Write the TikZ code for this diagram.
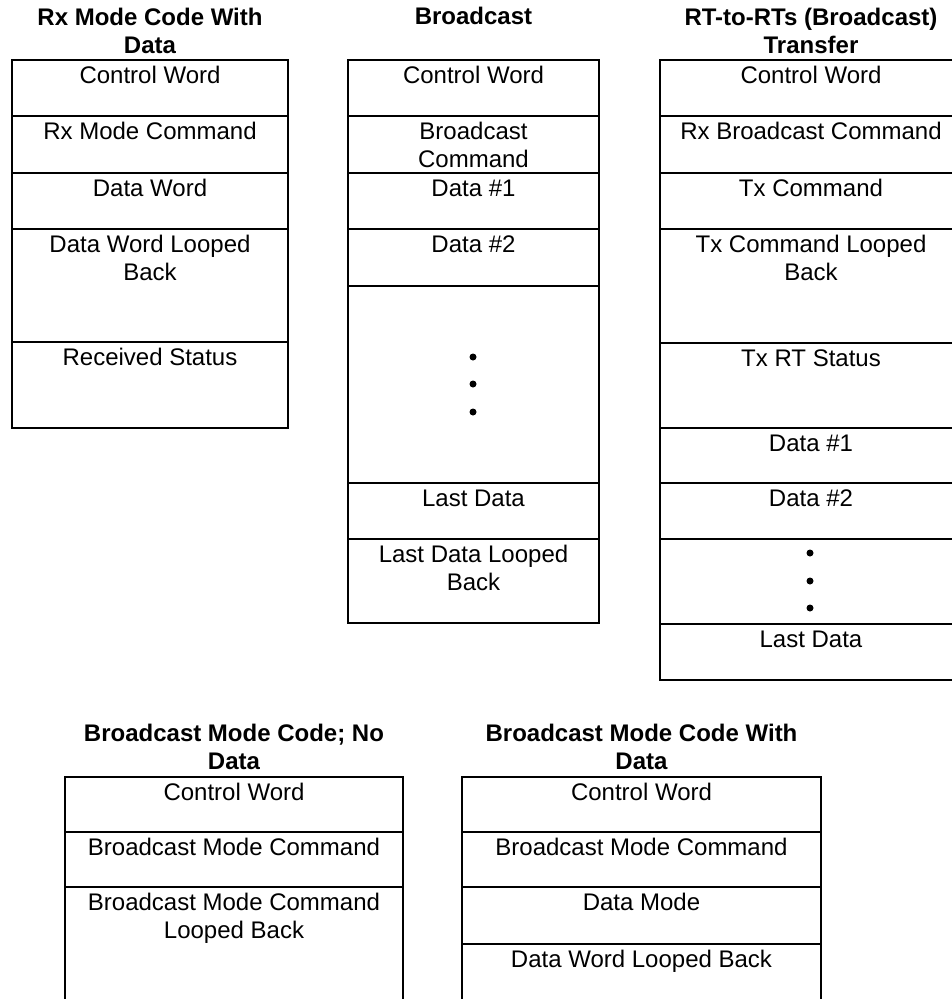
\documentclass[tikz,border=0pt]{standalone}
\usepackage{fontspec}
\setmainfont{Liberation Sans}
\usetikzlibrary{positioning}

\begin{document}
\begin{tikzpicture}[
    x=1pt, y=-1pt,
    cell/.style={draw, line width=2pt, minimum width=#1, inner xsep=0pt, inner ysep=0pt, outer sep=0pt, text height=23pt, align=center, font=\fontsize{24}{28}\selectfont},
    twoline/.style={text height=51pt},
    head/.style={inner sep=0pt, outer sep=0pt, align=center, font=\fontsize{24}{28}\selectfont\bfseries},
    dot/.style={circle, fill, inner sep=0pt, minimum size=7pt}
]
    \path[use as bounding box] (0,0) rectangle (952,999);
    \clip (0,0) rectangle (952,999);

    % Rx mode code with data
    \node[cell=276, anchor=north, text depth=33pt] (rx1) at (150,60) {Control Word};
    \node[cell=276, text depth=34pt, below=0pt of rx1] (rx2) {Rx Mode Command};
    \node[cell=276, text depth=33pt, below=0pt of rx2] (rx3) {Data Word};
    \node[cell=276, twoline, text depth=62pt, below=0pt of rx3] (rx4) {Data Word Looped\\Back};
    \node[cell=276, text depth=63pt, below=0pt of rx4] (rx5) {Received Status};
    \node[head, above=6pt of rx1] (rxhead) {Rx Mode Code With\\Data};

    % Broadcast
    \node[cell=251, anchor=north, text depth=33pt] (bc1) at (473.5,60) {Control Word};
    \node[cell=251, twoline, text depth=6pt, below=0pt of bc1] (bc2) {Broadcast\\Command};
    \node[cell=251, text depth=33pt, below=0pt of bc2] (bc3) {Data \#1};
    \node[cell=251, text depth=34pt, below=0pt of bc3] (bc4) {Data \#2};
    \node[cell=251, text depth=174pt, below=0pt of bc4] (bc5) {};
    \node[cell=251, text depth=33pt, below=0pt of bc5] (bc6) {Last Data};
    \node[cell=251, twoline, text depth=33pt, below=0pt of bc6] (bc7) {Last Data Looped\\Back};
    \node[head, above=35pt of bc1] (bchead) {Broadcast};
    \node[dot] (bcdot1) at (473,357) {};
    \node[dot] (bcdot2) at (473,384) {};
    \node[dot] (bcdot3) at (473,412) {};

    % RT-to-RTs transfer
    \node[cell=302, anchor=north, text depth=33pt] (rt1) at (811,60) {Control Word};
    \node[cell=302, text depth=34pt, below=0pt of rt1] (rt2) {Rx Broadcast Command};
    \node[cell=302, text depth=33pt, below=0pt of rt2] (rt3) {Tx Command};
    \node[cell=302, twoline, text depth=63pt, below=0pt of rt3] (rt4) {Tx Command Looped\\Back};
    \node[cell=302, text depth=62pt, below=0pt of rt4] (rt5) {Tx RT Status};
    \node[cell=302, text depth=32pt, below=0pt of rt5] (rt6) {Data \#1};
    \node[cell=302, text depth=33pt, below=0pt of rt6] (rt7) {Data \#2};
    \node[cell=302, text depth=62pt, below=0pt of rt7] (rt8) {};
    \node[cell=302, text depth=33pt, below=0pt of rt8] (rt9) {Last Data};
    \node[head, above=6pt of rt1] (rthead) {RT-to-RTs (Broadcast)\\Transfer};
    \node[dot] (rtdot1) at (810,553) {};
    \node[dot] (rtdot2) at (810,581) {};
    \node[dot] (rtdot3) at (810,608) {};

    % Broadcast mode code, no data
    \node[cell=338, anchor=north, text depth=32pt] (bm1) at (234,777) {Control Word};
    \node[cell=338, text depth=32pt, below=0pt of bm1] (bm2) {Broadcast Mode Command};
    \node[cell=338, twoline, text depth=72pt, below=0pt of bm2] (bm3) {Broadcast Mode Command\\Looped Back};
    \node[head, above=7pt of bm1] (bmhead) {Broadcast Mode Code; No\\Data};

    % Broadcast mode code with data
    \node[cell=359, anchor=north, text depth=32pt] (bw1) at (641.5,777) {Control Word};
    \node[cell=359, text depth=32pt, below=0pt of bw1] (bw2) {Broadcast Mode Command};
    \node[cell=359, text depth=34pt, below=0pt of bw2] (bw3) {Data Mode};
    \node[cell=359, text depth=43pt, below=0pt of bw3] (bw4) {Data Word Looped Back};
    \node[head, above=7pt of bw1] (bwhead) {Broadcast Mode Code With\\Data};
\end{tikzpicture}
\end{document}
